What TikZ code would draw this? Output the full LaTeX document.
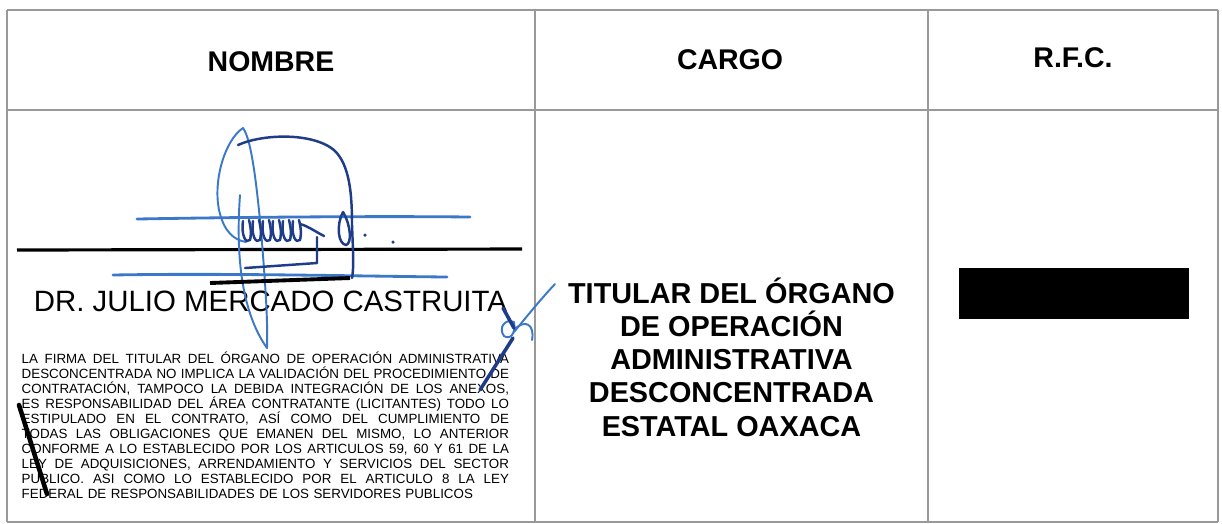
\documentclass[tikz,border=0pt]{standalone}
\usepackage{fontspec}
\setmainfont{Liberation Sans}
\definecolor{tinta}{HTML}{1F3C88}
\definecolor{tintaclara}{HTML}{3C78C8}
\definecolor{linea}{gray}{0.6}
\newcommand{\renglon}[1]{\hbox to 4.87cm{\spaceskip=0.278em plus 3em minus 0.12em\relax #1}}
\begin{document}
\begin{tikzpicture}[x=0.01cm,y=-0.01cm,
  tabla/.style={linea,line width=0.45pt},
  encabezado/.style={font=\fontsize{8.1}{9.7}\selectfont\bfseries},
  firmaclara/.style={tintaclara,line width=0.55pt,line cap=round},
  firmaoscura/.style={tinta,line width=0.7pt,line cap=round,line join=round}]

	% marco de la hoja
	\useasboundingbox (0,0) rectangle (1222,523);
	\fill[white] (0,0) rectangle (1222,523);

	% lineas de la tabla
	\draw[tabla] (7,10) -- (1218,10);
	\draw[tabla] (7,110) -- (1218,110);
	\draw[tabla] (7,522) -- (1218,522);
	\draw[tabla] (7,10) -- (7,522);
	\draw[tabla] (535,10) -- (535,522);
	\draw[tabla] (928,10) -- (928,522);
	\draw[tabla] (1218,10) -- (1218,522);

	% encabezados
	\node[encabezado] (nombre) at (271,62) {NOMBRE};
	\node[encabezado] (cargo) at (730,60) {CARGO};
	\node[encabezado] (rfc) at (1073,58) {R.F.C.};

	% linea de firma
	\coordinate (Li) at (17,250);
	\coordinate (Ld) at (522,249);
	\draw[line width=0.9pt] (Li) -- (Ld);

	% nombre del firmante
	\node[anchor=base,inner sep=0pt,font=\fontsize{8.36}{10}\selectfont] (firmante) at (270.5,311.7) {DR. JULIO MERCADO CASTRUITA};

	% leyenda
	\node[anchor=base west,inner sep=0pt,text width=4.87cm,font=\fontsize{3.8}{4.27}\selectfont] (nota) at (21,363.8) {%
	\renglon{LA FIRMA DEL TITULAR DEL ÓRGANO DE OPERACIÓN ADMINISTRATIVA}
	\renglon{DESCONCENTRADA NO IMPLICA LA VALIDACIÓN DEL PROCEDIMIENTO DE}
	\renglon{CONTRATACIÓN, TAMPOCO LA DEBIDA INTEGRACIÓN DE LOS ANEXOS,}
	\renglon{ES RESPONSABILIDAD DEL ÁREA CONTRATANTE (LICITANTES) TODO LO}
	\renglon{ESTIPULADO EN EL CONTRATO, ASÍ COMO DEL CUMPLIMIENTO DE}
	\renglon{TODAS LAS OBLIGACIONES QUE EMANEN DEL MISMO, LO ANTERIOR}
	\renglon{CONFORME A LO ESTABLECIDO POR LOS ARTICULOS 59, 60 Y 61 DE LA}
	\renglon{LEY DE ADQUISICIONES, ARRENDAMIENTO Y SERVICIOS DEL SECTOR}
	\renglon{PUBLICO. ASI COMO LO ESTABLECIDO POR EL ARTICULO 8 LA LEY}
	\noindent FEDERAL DE RESPONSABILIDADES DE LOS SERVIDORES PUBLICOS};

	% cargo
	\node[anchor=base,align=center,inner sep=0pt,font=\fontsize{8.2}{9.45}\selectfont\bfseries] (puesto) at (731.5,436) {TITULAR DEL ÓRGANO\\DE OPERACIÓN\\ADMINISTRATIVA\\DESCONCENTRADA\\ESTATAL OAXACA};

	% rfc tachado
	\node[fill=black,minimum width=2.3cm,minimum height=0.51cm,inner sep=0pt] (tachado) at (1074,293.5) {};

	% firma: lazo y trazo largo
	\draw[firmaclara] (243,128) .. controls (225,140) and (213,180) .. (219,210) .. controls (224,232) and (234,240) .. (246,242);
	\draw[firmaclara] (243,128) .. controls (252,140) and (257,190) .. (261,230) .. controls (265,280) and (268,320) .. (267,348);
	\draw[firmaclara] (240,195) .. controls (236,250) and (240,310) .. (267,348);
	\draw[firmaclara,line width=0.8pt] (137,219) .. controls (250,217) and (380,216) .. (470,217);
	\draw[firmaclara,line width=0.8pt] (113,275) .. controls (220,273) and (350,276) .. (447,277);

	% firma: cabeza y garabato
	\draw[firmaoscura] (238,145) .. controls (262,134) and (312,132) .. (334,150) .. controls (350,165) and (352,195) .. (352,225) .. controls (353,250) and (354,268) .. (352,278);
	\draw[firmaoscura] (317,237) -- (317,263) -- (245,268);
	\foreach \x in {243,253,263,273,283,293}
		\draw[firmaoscura] (\x,221) .. controls (\x-2,236) and (\x+3,244) .. (\x+7,240) .. controls (\x+9,232) and (\x+7,224) .. (\x+6,220);
	\draw[firmaoscura] (300,224) .. controls (308,226) and (316,232) .. (324,236);
	\draw[firmaoscura] (343,212) .. controls (336,225) and (338,244) .. (346,245) .. controls (352,244) and (351,225) .. (343,212);
	\fill[tinta] (365,235) circle (0.5pt);
	\fill[tinta] (393,242) circle (0.5pt);
	\draw[line width=1.1pt] (210,283) -- (350,278);

	% rubrica junto al nombre
	\draw[firmaclara] (555,284) .. controls (540,300) and (528,315) .. (514,332);
	\draw[firmaclara] (514,322) .. controls (505,318) and (498,328) .. (504,336) .. controls (510,340) and (516,334) .. (514,322);
	\draw[firmaclara] (514,330) .. controls (525,318) and (535,325) .. (532,340);
	\draw[firmaoscura,line width=1pt] (503,308) -- (514,328);
	\draw[firmaoscura,line width=1pt] (513,338) -- (480,390);

	% marca a la izquierda
	\draw[line width=1.3pt,line cap=round] (19,405) -- (47,494);

\end{tikzpicture}
\end{document}
